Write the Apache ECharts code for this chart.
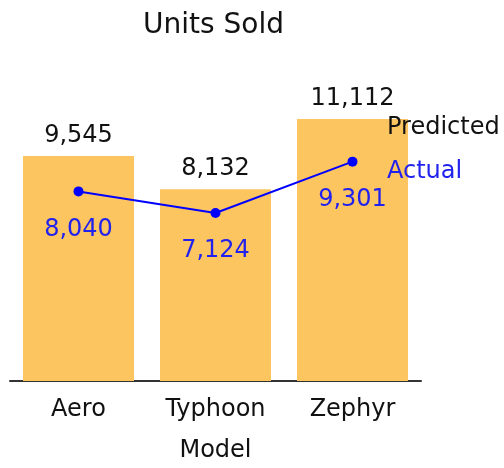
<!DOCTYPE html>
<html>
<head>
<meta charset="utf-8">
<script src="https://cdn.jsdelivr.net/npm/echarts@6/dist/echarts.min.js"></script>
<style>
  html, body { margin: 0; padding: 0; background: #fff; }
  #chart { width: 504px; height: 468px; }
</style>
</head>
<body>
<div id="chart"></div>
<script>
// data
const models = ['Aero', 'Typhoon', 'Zephyr']
const predicted = [9545, 8132, 11112]
const actual = [8040, 7124, 9301]

const fmt = p => p.value.toLocaleString('en-US')
const font = 'DejaVu Sans'

const myChart = echarts.init(document.getElementById('chart'))
myChart.setOption({
  animation: false,
  textStyle: { fontFamily: font },
  title: {
    text: 'Units Sold',
    left: 138,
    top: 7,
    textStyle: { fontFamily: font, fontSize: 28, fontWeight: 'normal', color: '#111' }
  },
  legend: {
    orient: 'vertical',
    left: 377,
    top: 111,
    itemWidth: 0,
    itemHeight: 0,
    itemGap: 20,
    selectedMode: false,
    textStyle: { fontFamily: font, fontSize: 24 },
    data: [
      { name: 'Predicted', icon: 'none', textStyle: { color: '#111' } },
      { name: 'Actual', icon: 'none', textStyle: { color: '#2222ee' } }
    ]
  },
  // plot area
  grid: { left: 10, right: 83, top: 98, bottom: 81 },
  xAxis: {
    type: 'category',
    data: models,
    name: 'Model',
    nameLocation: 'middle',
    nameGap: 58,
    nameTextStyle: { fontFamily: font, fontSize: 24, color: '#111' },
    axisLine: { lineStyle: { color: '#333', width: 2 } },
    axisTick: { show: false },
    axisLabel: { fontFamily: font, fontSize: 24, color: '#111', margin: 17 }
  },
  yAxis: {
    type: 'value',
    min: 0,
    max: 12000,
    show: false,
    splitLine: { show: false }
  },
  series: [
    {
      name: 'Predicted',
      type: 'bar',
      data: predicted,
      barWidth: '81%',
      itemStyle: { color: '#fdc55f' },
      label: {
        show: true,
        position: 'top',
        distance: 8,
        formatter: fmt,
        fontFamily: font,
        fontSize: 24,
        color: '#111'
      }
    },
    {
      name: 'Actual',
      type: 'line',
      data: actual,
      symbol: 'circle',
      symbolSize: 10,
      lineStyle: { color: '#0000ff', width: 2 },
      itemStyle: { color: '#0000ff' },
      label: {
        show: true,
        position: 'bottom',
        distance: 21,
        formatter: fmt,
        fontFamily: font,
        fontSize: 24,
        color: '#2222ee'
      }
    }
  ]
})
</script>
</body>
</html>
